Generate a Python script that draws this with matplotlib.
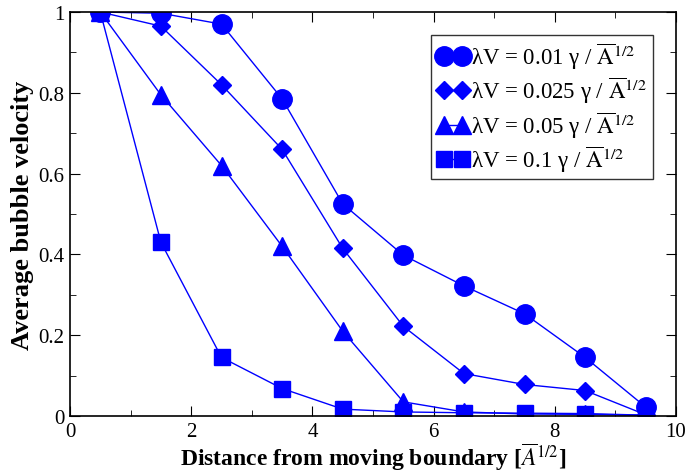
import matplotlib
matplotlib.use("Agg")
import matplotlib.pyplot as plt
from matplotlib.ticker import MultipleLocator, FormatStrFormatter

plt.rcParams['font.family'] = 'Liberation Serif'
plt.rcParams['mathtext.fontset'] = 'stix'

distance = [0.5, 1.5, 2.5, 3.5, 4.5, 5.5, 6.5, 7.5, 8.5, 9.5]
v_001 = [1.0, 0.997, 0.97, 0.785, 0.525, 0.398, 0.322, 0.253, 0.145, 0.022]
v_0025 = [1.0, 0.965, 0.82, 0.66, 0.415, 0.222, 0.105, 0.078, 0.063, 0.003]
v_005 = [1.0, 0.795, 0.62, 0.42, 0.21, 0.035, 0.01, 0.005, 0.004, 0.002]
v_01 = [1.0, 0.43, 0.145, 0.068, 0.017, 0.01, 0.008, 0.007, 0.006, 0.002]
rates = ['0.01', '0.025', '0.05', '0.1']

fig = plt.figure(figsize=(6.89, 4.77), dpi=100)
ax = fig.add_axes([0.1016, 0.1258, 0.8796, 0.8469])

series = [v_001, v_0025, v_005, v_01]
markers = ['o', 'D', '^', 's']
sizes = [14, 9, 13, 11]
for vals, m, ms, r in zip(series, markers, sizes, rates):
    label = 'λV = ' + r + r' γ / $\overline{\mathrm{A}}^{\mathrm{1/2}}$'
    ax.plot(distance, vals, color='#0000ff', lw=1, marker=m, ms=ms,
            mec='#0000ff', mfc='#0000ff', label=label)

ax.set_xlim(0, 10)
ax.set_ylim(0, 1)
ax.xaxis.set_major_locator(MultipleLocator(2))
ax.xaxis.set_minor_locator(MultipleLocator(1))
ax.yaxis.set_major_locator(MultipleLocator(0.2))
ax.yaxis.set_minor_locator(MultipleLocator(0.1))
ax.xaxis.set_major_formatter(FormatStrFormatter('%g'))
ax.yaxis.set_major_formatter(FormatStrFormatter('%g'))
ax.tick_params(which='both', direction='in', top=True, right=True, labelsize=15)
ax.tick_params(which='major', length=7)
ax.tick_params(which='minor', length=4)
ax.tick_params(axis='x', which='major', pad=4)
ax.tick_params(axis='y', which='major', pad=4)
for s in ax.spines.values():
    s.set_linewidth(1.2)

ax.set_xlabel(r'Distance from moving boundary [$\overline{A}^{1/2}$]',
              fontsize=17, fontweight='bold', labelpad=0)
ax.set_ylabel('Average bubble velocity', fontsize=19, fontweight='bold', labelpad=3)

leg = ax.legend(loc='upper right', numpoints=2, fontsize=16.5, frameon=True,
                fancybox=False, edgecolor='black', handlelength=1.4,
                handletextpad=0.1, borderpad=0.25, labelspacing=0.15,
                borderaxespad=1.0)
leg.get_frame().set_linewidth(1)

fig.savefig('out.png', dpi=100)
